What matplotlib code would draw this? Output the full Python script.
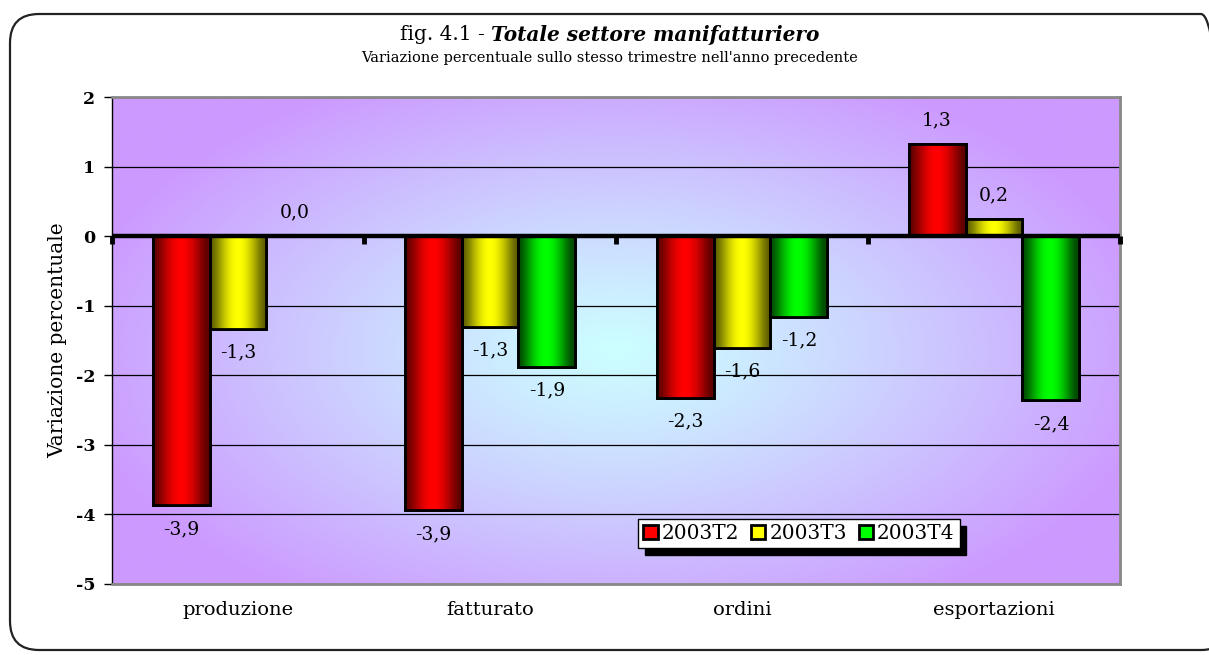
import numpy as np
import matplotlib
matplotlib.use("Agg")
import matplotlib.pyplot as plt
from matplotlib.patches import FancyBboxPatch
from matplotlib.colors import to_rgb
import matplotlib.markers as mmarkers

categories = ["produzione", "fatturato", "ordini", "esportazioni"]
series_names = ["2003T2", "2003T3", "2003T4"]
v_2003T2 = [-3.87, -3.94, -2.33, 1.33]
v_2003T3 = [-1.33, -1.30, -1.61, 0.24]
v_2003T4 = [0.0, -1.88, -1.16, -2.36]
series_values = [v_2003T2, v_2003T3, v_2003T4]
label_values = [[-3.9, -3.9, -2.3, 1.3], [-1.3, -1.3, -1.6, 0.2], [0.0, -1.9, -1.2, -2.4]]
yticks = [2, 1, 0, -1, -2, -3, -4, -5]

bright = ["#ff0000", "#ffff00", "#00ff00"]
dark = ["#600000", "#606000", "#004c00"]

FONT = "DejaVu Serif"
plt.rcParams['font.family'] = [FONT]

fig = plt.figure(figsize=(12.09, 6.55), dpi=100)
fig.patch.set_facecolor("white")

# rounded border
border = FancyBboxPatch((10/1209, 1 - 650/655), (1230 - 10)/1209, (650 - 14)/655,
                        boxstyle="round,pad=0,rounding_size=0.024",
                        transform=fig.transFigure, facecolor="none",
                        edgecolor="#222222", lw=1.6, mutation_aspect=1209/655)
fig.patches.append(border)

ax = fig.add_axes([112/1209, 1 - 584/655, (1120 - 112)/1209, (584 - 97)/655])

# radial background
ny, nx = 300, 500
yy, xx = np.mgrid[0:1:ny*1j, 0:1:nx*1j]
d = np.sqrt(((xx - 0.5) / 0.55) ** 2 + ((yy - 0.52) / 0.62) ** 2)
d = np.clip(d, 0, 1) ** 1.1
c0 = np.array(to_rgb("#ccffff"))
c1 = np.array(to_rgb("#cc99ff"))
bg = c0[None, None, :] * (1 - d[..., None]) + c1[None, None, :] * d[..., None]
ax.imshow(bg, extent=[0, 1, 0, 1], transform=ax.transAxes, aspect='auto', zorder=-10, origin='upper')

x = np.arange(len(categories))
w = 0.226
offsets = [-w, 0, w]

t = np.linspace(0, 1, 200)
prof = np.clip(np.sin(np.pi * np.clip((t - 0.02) / 0.94, 0, 1)), 0, 1) ** 1.3

for i, (vals, name) in enumerate(zip(series_values, series_names)):
    bars = ax.bar(x + offsets[i], vals, width=w, facecolor=bright[i], edgecolor="black",
                  lw=2, zorder=3, label=name)
    cb = np.array(to_rgb(bright[i])); cd = np.array(to_rgb(dark[i]))
    grad = cd[None, :] * (1 - prof[:, None]) + cb[None, :] * prof[:, None]
    grad = grad[None, :, :]
    for b, v in zip(bars, vals):
        if abs(v) < 1e-9:
            continue
        x0, y0 = b.get_x(), b.get_y()
        im = ax.imshow(grad, extent=[x0, x0 + b.get_width(), y0, y0 + b.get_height()],
                       aspect='auto', zorder=3.1, interpolation='bilinear')
        im.set_clip_path(b)
        ax.bar(b.get_x() + b.get_width() / 2, v, width=w, facecolor="none", edgecolor="black",
               lw=2, zorder=3.2)
    for xi, v, lv in zip(x + offsets[i], vals, label_values[i]):
        off = -17 if v < 0 else 17
        ax.annotate(f"{lv:.1f}".replace(".", ","), (xi, v), xytext=(0, off),
                    textcoords="offset points", ha="center", va="center",
                    fontsize=13.5, zorder=5)

ax.set_xlim(-0.5, len(categories) - 0.5)
ax.set_ylim(-5, 2)
ax.set_yticks(yticks)
ax.set_yticklabels([str(v) for v in yticks], fontsize=12.5, fontweight="semibold")
ax.tick_params(axis='y', direction='out', length=6, width=1, pad=6)
ax.set_xticks([])
ax.yaxis.grid(True, color="black", lw=0.9)
ax.set_axisbelow(True)
for s in ax.spines.values():
    s.set_color("#888888")
    s.set_linewidth(2)
ax.spines['left'].set_color("black")
ax.spines['left'].set_linewidth(1)

# zero axis with ticks
ax.axhline(0, color="black", lw=3.2, zorder=4)
bounds = np.arange(len(categories) + 1) - 0.5
ax.plot(bounds, np.zeros_like(bounds), linestyle="none", marker=mmarkers.TICKDOWN,
        markersize=6, markeredgewidth=3.5, color="black", zorder=4, clip_on=False)

for xi, c in zip(x, categories):
    ax.annotate(c, (xi, 0), xycoords=("data", "axes fraction"), xytext=(0, -19),
                textcoords="offset points", ha="center", va="center", fontsize=14)

ax.set_ylabel("Variazione percentuale", fontsize=14.5, labelpad=6)

leg = ax.legend(loc="center", bbox_to_anchor=(0.6815, 0.103), ncol=3, frameon=True,
                fontsize=14.5, handlelength=0.7, handleheight=0.7, handletextpad=0.2,
                columnspacing=0.6, borderpad=0.25, fancybox=False,
                shadow={'color': 'black', 'alpha': 1, 'ox': 5, 'oy': -5})
leg.get_frame().set_edgecolor("black")
leg.get_frame().set_linewidth(1)
leg.set_zorder(6)

# title
r = fig.canvas.get_renderer()
t1 = fig.text(0, 1 - 35/655, "fig. 4.1 - ", fontsize=14.5, ha="left", va="center")
t2 = fig.text(0, 1 - 35/655, "Totale settore manifatturiero", fontsize=14.5, fontweight="bold",
              fontstyle="italic", ha="left", va="center")
w1 = t1.get_window_extent(r).width
w2 = t2.get_window_extent(r).width
start = 610 - (w1 + w2) / 2
t1.set_x(start / 1209)
t2.set_x((start + w1) / 1209)
fig.text(610/1209, 1 - 58/655, "Variazione percentuale sullo stesso trimestre nell'anno precedente",
         fontsize=10.5, ha="center", va="center")

fig.savefig("out.png", dpi=100)
